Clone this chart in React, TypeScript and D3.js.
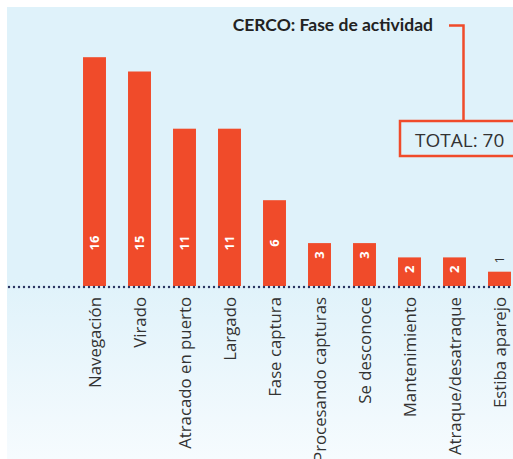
import React, { useEffect, useRef } from 'react';
import * as d3 from 'd3';

const categories = [
  'Navegación',
  'Virado',
  'Atracado en puerto',
  'Largado',
  'Fase captura',
  'Procesando capturas',
  'Se desconoce',
  'Mantenimiento',
  'Atraque/desatraque',
  'Estiba aparejo',
];
const values = [16, 15, 11, 11, 6, 3, 3, 2, 2, 1];
const title = 'CERCO: Fase de actividad';

const App = () => {
  const svgRef = useRef<SVGSVGElement>(null);

  useEffect(() => {
    const width = 513;
    const height = 459;
    const baseY = 286;
    const orange = '#f04b2a';

    d3.select(svgRef.current).selectAll('*').remove();

    const svg = d3.select(svgRef.current)
      .attr('width', width)
      .attr('height', height);

    // background gradient
    const grad = svg.append('defs').append('linearGradient')
      .attr('id', 'bg-grad')
      .attr('x1', 0).attr('y1', 0).attr('x2', 0).attr('y2', 1);
    grad.append('stop').attr('offset', '0.6').attr('stop-color', '#dff2fa');
    grad.append('stop').attr('offset', '1').attr('stop-color', '#f6fbfe');

    svg.append('rect')
      .attr('x', 7).attr('y', 7)
      .attr('width', width - 7).attr('height', height - 7)
      .attr('fill', 'url(#bg-grad)');

    const x = d3.scaleBand<string>()
      .domain(categories)
      .range([72, 522])
      .paddingInner(0.49)
      .paddingOuter(0.245);

    const y = d3.scaleLinear()
      .domain([0, 16])
      .range([baseY, baseY - 16 * 14.3]);

    const data = categories.map((c, i) => ({ c, v: values[i] }));
    const isSmall = (v: number) => y(0) - y(v) < 18;

    // bars
    svg.append('g').selectAll('rect')
      .data(data)
      .join('rect')
      .attr('x', d => x(d.c)!)
      .attr('y', d => y(d.v))
      .attr('width', x.bandwidth())
      .attr('height', d => y(0) - y(d.v))
      .attr('fill', orange);

    // value labels (rotated), outside the bar when it is too short
    svg.append('g').selectAll('text')
      .data(data)
      .join('text')
      .attr('transform', d => {
        const cx = x(d.c)! + x.bandwidth() / 2;
        const top = y(d.v);
        const cy = isSmall(d.v) ? top - 12 : Math.max(top + 12, 243);
        return `translate(${cx},${cy}) rotate(-90)`;
      })
      .attr('text-anchor', 'middle')
      .attr('dy', '0.36em')
      .attr('font-family', '"Open Sans", sans-serif')
      .attr('font-weight', d => (isSmall(d.v) ? 'normal' : 'bold'))
      .attr('font-size', '13px')
      .attr('fill', d => (isSmall(d.v) ? '#333' : '#fff'))
      .text(d => d.v);

    // dotted baseline
    svg.append('line')
      .attr('x1', 9).attr('x2', width)
      .attr('y1', baseY + 1).attr('y2', baseY + 1)
      .attr('stroke', '#2b3462')
      .attr('stroke-width', 2.4)
      .attr('stroke-linecap', 'round')
      .attr('stroke-dasharray', '0 5');

    // category labels
    svg.append('g').selectAll('text')
      .data(data)
      .join('text')
      .attr('transform', d => `translate(${x(d.c)! + x.bandwidth() / 2},${baseY + 11}) rotate(-90)`)
      .attr('text-anchor', 'end')
      .attr('dy', '0.36em')
      .attr('font-family', '"Open Sans", sans-serif')
      .attr('font-size', '16.8px')
      .attr('fill', '#333')
      .text(d => d.c);

    // title
    svg.append('text')
      .attr('x', 433).attr('y', 31)
      .attr('text-anchor', 'end')
      .attr('font-family', 'Lato, sans-serif')
      .attr('font-weight', 'bold')
      .attr('font-size', '17.5px')
      .attr('fill', '#222')
      .text(title);

    // connector to total box
    svg.append('path')
      .attr('d', 'M449,25.5H463.5V120')
      .attr('fill', 'none')
      .attr('stroke', orange)
      .attr('stroke-width', 2.5);

    svg.append('rect')
      .attr('x', 400).attr('y', 121)
      .attr('width', 130).attr('height', 35)
      .attr('fill', 'none')
      .attr('stroke', orange)
      .attr('stroke-width', 2.5);

    svg.append('text')
      .attr('x', 415).attr('y', 147)
      .attr('font-family', '"Open Sans", sans-serif')
      .attr('font-size', '19px')
      .attr('fill', '#333')
      .text(`TOTAL: ${d3.sum(values)}`);
  }, []);

  return (
    <div style={{ position: 'fixed', top: 0, left: 0 }}>
      <svg ref={svgRef} style={{ display: 'block' }}></svg>
    </div>
  );
};

export default App;
